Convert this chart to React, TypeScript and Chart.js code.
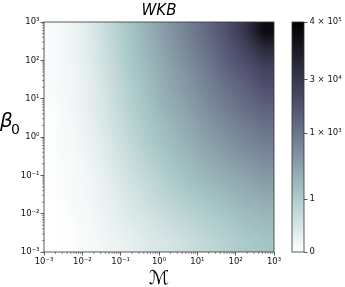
import React, { useEffect, useRef } from "react";
import { Chart, registerables } from "chart.js";

Chart.register(...registerables);

const TITLE = "WKB";
const X_LABEL = "ℳ";
const Y_LABEL = "β";
const Y_LABEL_SUB = "0";

const AXIS_MIN = 1e-3;
const AXIS_MAX = 1e3;
const X_TICKS = [1e-3, 1e-2, 1e-1, 1, 1e1, 1e2, 1e3];
const Y_TICKS = [1e-3, 1e-2, 1e-1, 1, 1e1, 1e2, 1e3];

// cell centres (log10) – columns left→right, rows top→bottom
const CELL_LOG10_X = [-2.75, -2.25, -1.75, -1.25, -0.75, -0.25, 0.25, 0.75, 1.25, 1.75, 2.25, 2.75];
const CELL_LOG10_Y = [2.75, 2.25, 1.75, 1.25, 0.75, 0.25, -0.25, -0.75, -1.25, -1.75, -2.25, -2.75];

// colour-bar level (0..1) of each cell, rows top→bottom
const LEVELS = [
  [0.02, 0.05, 0.10, 0.18, 0.26, 0.33, 0.41, 0.48, 0.56, 0.64, 0.76, 0.95],
  [0.02, 0.05, 0.10, 0.17, 0.25, 0.32, 0.39, 0.46, 0.53, 0.61, 0.69, 0.80],
  [0.02, 0.04, 0.09, 0.16, 0.24, 0.30, 0.37, 0.43, 0.50, 0.57, 0.63, 0.70],
  [0.02, 0.04, 0.08, 0.15, 0.22, 0.29, 0.35, 0.41, 0.47, 0.53, 0.58, 0.64],
  [0.01, 0.04, 0.08, 0.14, 0.21, 0.27, 0.33, 0.38, 0.44, 0.49, 0.54, 0.58],
  [0.01, 0.03, 0.07, 0.13, 0.19, 0.25, 0.30, 0.35, 0.40, 0.45, 0.49, 0.53],
  [0.01, 0.03, 0.06, 0.11, 0.17, 0.23, 0.28, 0.32, 0.37, 0.41, 0.45, 0.48],
  [0.01, 0.02, 0.05, 0.10, 0.15, 0.20, 0.25, 0.29, 0.33, 0.37, 0.40, 0.43],
  [0.01, 0.02, 0.04, 0.08, 0.13, 0.17, 0.22, 0.26, 0.29, 0.32, 0.35, 0.38],
  [0.00, 0.02, 0.04, 0.07, 0.11, 0.15, 0.19, 0.22, 0.25, 0.28, 0.31, 0.33],
  [0.00, 0.01, 0.03, 0.06, 0.09, 0.12, 0.15, 0.18, 0.21, 0.24, 0.27, 0.29],
  [0.00, 0.01, 0.03, 0.05, 0.07, 0.10, 0.12, 0.15, 0.18, 0.21, 0.24, 0.26],
];

const CB_LEVELS = [0, 0.23, 0.517, 0.748, 1];
const CB_LABELS = ["0", "1", "1 × 10³", "3 × 10⁴", "4 × 10⁵"];

const FONT = "'DejaVu Sans', sans-serif";

// matplotlib "bone" segment data, used reversed
const BONE_R: [number, number][] = [[0, 0], [0.746032, 0.652778], [1, 1]];
const BONE_G: [number, number][] = [[0, 0], [0.365079, 0.319444], [0.746032, 0.777778], [1, 1]];
const BONE_B: [number, number][] = [[0, 0], [0.365079, 0.444444], [1, 1]];

function seg(s: [number, number][], v: number) {
  if (v <= s[0][0]) return s[0][1];
  for (let k = 0; k < s.length - 1; k++) {
    if (v <= s[k + 1][0]) {
      const f = (v - s[k][0]) / (s[k + 1][0] - s[k][0]);
      return s[k][1] + f * (s[k + 1][1] - s[k][1]);
    }
  }
  return s[s.length - 1][1];
}

function boneR(t: number): [number, number, number] {
  const v = 1 - Math.max(0, Math.min(1, t));
  return [
    Math.round(seg(BONE_R, v) * 255),
    Math.round(seg(BONE_G, v) * 255),
    Math.round(seg(BONE_B, v) * 255),
  ];
}

function fracIndex(arr: number[], v: number) {
  const n = arr.length;
  const asc = arr[n - 1] > arr[0];
  if (asc ? v <= arr[0] : v >= arr[0]) return 0;
  if (asc ? v >= arr[n - 1] : v <= arr[n - 1]) return n - 1;
  for (let k = 0; k < n - 1; k++) {
    if ((v - arr[k]) * (v - arr[k + 1]) <= 0) {
      return k + (v - arr[k]) / (arr[k + 1] - arr[k]);
    }
  }
  return n - 1;
}

const SUP: Record<string, string> = {
  "-": "⁻", "0": "⁰", "1": "¹", "2": "²", "3": "³", "4": "⁴",
  "5": "⁵", "6": "⁶", "7": "⁷", "8": "⁸", "9": "⁹",
};
function decadeLabel(v: number) {
  const e = Math.round(Math.log10(v));
  return "10" + String(e).split("").map((c) => SUP[c] || c).join("");
}

const heatmapPlugin = {
  id: "heatmap",
  beforeDatasetsDraw(chart: any) {
    const { ctx, chartArea: a, scales } = chart;
    const xs = scales.x, ys = scales.y;
    const L = Math.round(a.left), T = Math.round(a.top);
    const R = Math.round(a.right), B = Math.round(a.bottom);
    const w = R - L, h = B - T;
    if (w <= 0 || h <= 0) return;
    const img = ctx.createImageData(w, h);
    const fxs: number[] = [];
    for (let i = 0; i < w; i++) {
      fxs.push(fracIndex(CELL_LOG10_X, Math.log10(xs.getValueForPixel(L + i + 0.5))));
    }
    const nx = CELL_LOG10_X.length, ny = CELL_LOG10_Y.length;
    for (let j = 0; j < h; j++) {
      const fy = fracIndex(CELL_LOG10_Y, Math.log10(ys.getValueForPixel(T + j + 0.5)));
      const j0 = Math.floor(fy), j1 = Math.min(ny - 1, j0 + 1), ty = fy - j0;
      for (let i = 0; i < w; i++) {
        const fx = fxs[i];
        const i0 = Math.floor(fx), i1 = Math.min(nx - 1, i0 + 1), tx = fx - i0;
        const top = LEVELS[j0][i0] * (1 - tx) + LEVELS[j0][i1] * tx;
        const bot = LEVELS[j1][i0] * (1 - tx) + LEVELS[j1][i1] * tx;
        const t = top * (1 - ty) + bot * ty;
        const c = boneR(t);
        const p = (j * w + i) * 4;
        img.data[p] = c[0];
        img.data[p + 1] = c[1];
        img.data[p + 2] = c[2];
        img.data[p + 3] = 255;
      }
    }
    ctx.putImageData(img, L, T);
  },
  afterDraw(chart: any) {
    const { ctx, chartArea: a, scales } = chart;
    const xs = scales.x, ys = scales.y;
    ctx.save();
    // minor ticks
    ctx.strokeStyle = "#444";
    ctx.lineWidth = 0.6;
    ctx.beginPath();
    for (let n = -3; n < 3; n++) {
      for (let k = 2; k <= 9; k++) {
        const v = k * Math.pow(10, n);
        const px = xs.getPixelForValue(v);
        ctx.moveTo(px, a.bottom);
        ctx.lineTo(px, a.bottom + 2);
        const py = ys.getPixelForValue(v);
        ctx.moveTo(a.left, py);
        ctx.lineTo(a.left - 2, py);
      }
    }
    ctx.stroke();
    // frame
    ctx.strokeStyle = "#333";
    ctx.lineWidth = 0.8;
    ctx.strokeRect(a.left, a.top, a.right - a.left, a.bottom - a.top);
    // title
    ctx.fillStyle = "#000";
    ctx.textAlign = "center";
    ctx.textBaseline = "alphabetic";
    ctx.font = `italic 15px ${FONT}`;
    ctx.fillText(TITLE, (a.left + a.right) / 2, 15);
    // x label
    ctx.font = `19px ${FONT}`;
    ctx.fillText(X_LABEL, (a.left + a.right) / 2, 284);
    // y label
    ctx.textAlign = "left";
    ctx.font = `italic 20px ${FONT}`;
    ctx.fillText(Y_LABEL, 0, 127);
    ctx.font = `14px ${FONT}`;
    ctx.fillText(Y_LABEL_SUB, 11, 134);
    ctx.restore();
  },
};

const colorbarPlugin = {
  id: "colorbar",
  beforeDatasetsDraw(chart: any) {
    const { ctx, chartArea: a, scales } = chart;
    const ys = scales.y;
    const T = Math.round(a.top), B = Math.round(a.bottom);
    for (let y = T; y < B; y++) {
      const c = boneR(ys.getValueForPixel(y + 0.5));
      ctx.fillStyle = `rgb(${c[0]},${c[1]},${c[2]})`;
      ctx.fillRect(a.left, y, a.right - a.left, 1);
    }
  },
  afterDraw(chart: any) {
    const { ctx, chartArea: a } = chart;
    ctx.save();
    ctx.strokeStyle = "#333";
    ctx.lineWidth = 0.8;
    ctx.strokeRect(a.left, a.top, a.right - a.left, a.bottom - a.top);
    ctx.restore();
  },
};

export default function App() {
  const mainRef = useRef<HTMLCanvasElement>(null);
  const cbRef = useRef<HTMLCanvasElement>(null);

  useEffect(() => {
    const cells: { x: number; y: number; v: number }[] = [];
    CELL_LOG10_Y.forEach((ly, r) =>
      CELL_LOG10_X.forEach((lx, c) =>
        cells.push({ x: Math.pow(10, lx), y: Math.pow(10, ly), v: LEVELS[r][c] })
      )
    );
    const tickFont = { family: FONT, size: 8.5 };
    const main = new Chart(mainRef.current!, {
      type: "scatter",
      data: { datasets: [{ data: cells, pointRadius: 0, pointHoverRadius: 0 }] },
      options: {
        animation: false,
        responsive: false,
        devicePixelRatio: 1,
        events: [],
        layout: { padding: { left: 0, top: 22, right: 16, bottom: 0 } },
        plugins: { legend: { display: false }, tooltip: { enabled: false } },
        scales: {
          x: {
            type: "logarithmic",
            min: AXIS_MIN,
            max: AXIS_MAX,
            afterBuildTicks: (s: any) => { s.ticks = X_TICKS.map((v) => ({ value: v })); },
            afterFit: (s: any) => { s.height = 35; },
            ticks: {
              callback: (v: any) => decadeLabel(Number(v)),
              font: tickFont, color: "#111", maxRotation: 0, autoSkip: false, padding: 1,
            },
            grid: { drawOnChartArea: false, tickLength: 3.5, color: "#333", lineWidth: 0.8 },
            border: { display: false },
          },
          y: {
            type: "logarithmic",
            min: AXIS_MIN,
            max: AXIS_MAX,
            afterBuildTicks: (s: any) => { s.ticks = Y_TICKS.map((v) => ({ value: v })); },
            afterFit: (s: any) => { s.width = 44; },
            ticks: {
              callback: (v: any) => decadeLabel(Number(v)),
              font: tickFont, color: "#111", autoSkip: false, padding: 1,
            },
            grid: { drawOnChartArea: false, tickLength: 3.5, color: "#333", lineWidth: 0.8 },
            border: { display: false },
          },
        },
      } as any,
      plugins: [heatmapPlugin],
    });

    const cb = new Chart(cbRef.current!, {
      type: "scatter",
      data: { datasets: [] },
      options: {
        animation: false,
        responsive: false,
        devicePixelRatio: 1,
        events: [],
        layout: { padding: { left: 12, top: 22, right: 0, bottom: 35 } },
        plugins: { legend: { display: false }, tooltip: { enabled: false } },
        scales: {
          x: { display: false, min: 0, max: 1 },
          y: {
            type: "linear",
            position: "right",
            min: 0,
            max: 1,
            afterBuildTicks: (s: any) => { s.ticks = CB_LEVELS.map((v) => ({ value: v })); },
            afterFit: (s: any) => { s.width = 41; },
            ticks: {
              callback: (v: any) => CB_LABELS[CB_LEVELS.indexOf(Number(v))],
              font: tickFont, color: "#111", autoSkip: false, padding: 2,
            },
            grid: { drawOnChartArea: false, tickLength: 3.5, color: "#333", lineWidth: 0.8 },
            border: { display: false },
          },
        },
      } as any,
      plugins: [colorbarPlugin],
    });

    return () => {
      main.destroy();
      cb.destroy();
    };
  }, []);

  return (
    <div style={{ position: "absolute", left: 0, top: 0, width: 345, height: 287, background: "#fff", overflow: "hidden" }}>
      <canvas ref={mainRef} width={290} height={287}
        style={{ position: "absolute", left: 0, top: 0, width: 290, height: 287, display: "block" }} />
      <canvas ref={cbRef} width={65} height={287}
        style={{ position: "absolute", left: 280, top: 0, width: 65, height: 287, display: "block" }} />
    </div>
  );
}
